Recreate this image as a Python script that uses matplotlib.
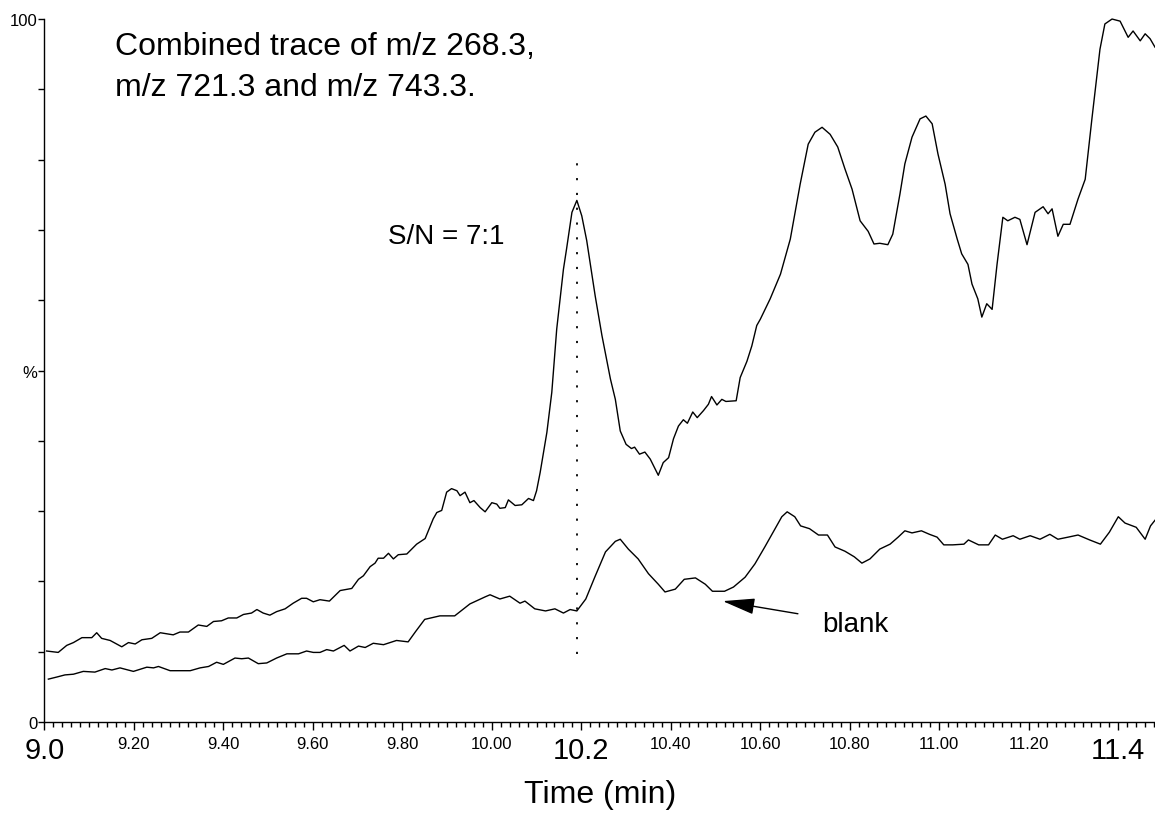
import matplotlib
matplotlib.use("Agg")
import matplotlib.pyplot as plt
from matplotlib.ticker import MultipleLocator, FixedLocator

plt.rcParams['font.family'] = ['Liberation Sans', 'DejaVu Sans']

# Combined ion trace (m/z 268.3 + 721.3 + 743.3): time in min, relative intensity in %
time_sample = [9.005, 9.031, 9.05, 9.065, 9.084, 9.106, 9.117, 9.128, 9.147, 9.173,
               9.188, 9.203, 9.218, 9.24, 9.259, 9.288, 9.303, 9.322, 9.344, 9.363,
               9.378, 9.396, 9.411, 9.43, 9.445, 9.463, 9.475, 9.489, 9.504, 9.519,
               9.538, 9.556, 9.575, 9.586, 9.601, 9.616, 9.637, 9.661, 9.687, 9.702,
               9.713, 9.728, 9.739, 9.746, 9.758, 9.769, 9.78, 9.791, 9.81, 9.832,
               9.851, 9.869, 9.877, 9.888, 9.899, 9.91, 9.922, 9.929, 9.94, 9.951,
               9.96, 9.974, 9.985, 10.0, 10.011, 10.018, 10.03, 10.037, 10.052, 10.067,
               10.082, 10.093, 10.10, 10.108, 10.123, 10.134, 10.145, 10.16, 10.167, 10.179,
               10.19, 10.201, 10.212, 10.231, 10.246, 10.265, 10.276, 10.287, 10.30, 10.312,
               10.319, 10.33, 10.342, 10.354, 10.372, 10.383, 10.395, 10.406, 10.417, 10.428,
               10.437, 10.449, 10.459, 10.473, 10.484, 10.491, 10.503, 10.514, 10.523, 10.546,
               10.555, 10.570, 10.581, 10.592, 10.6, 10.622, 10.645, 10.667, 10.689, 10.707,
               10.722, 10.738, 10.756, 10.773, 10.789, 10.805, 10.823, 10.841, 10.854, 10.867,
               10.885, 10.896, 10.912, 10.923, 10.939, 10.957, 10.97, 10.984, 10.997, 11.013,
               11.024, 11.04, 11.05, 11.064, 11.073, 11.086, 11.095, 11.106, 11.118, 11.129,
               11.142, 11.153, 11.169, 11.18, 11.196, 11.214, 11.232, 11.243, 11.252, 11.265,
               11.277, 11.292, 11.31, 11.326, 11.341, 11.359, 11.37, 11.386, 11.404, 11.422,
               11.433, 11.449, 11.46, 11.471, 11.482]
intensity_sample = [10.1, 9.9, 10.9, 11.3, 12.0, 12.0, 12.7, 11.9, 11.6, 10.7,
                    11.3, 11.1, 11.7, 11.9, 12.7, 12.4, 12.8, 12.8, 13.8, 13.6,
                    14.3, 14.4, 14.8, 14.8, 15.3, 15.5, 16.0, 15.5, 15.2, 15.7,
                    16.1, 16.9, 17.6, 17.6, 17.1, 17.4, 17.2, 18.7, 19.0, 20.3,
                    20.8, 22.1, 22.6, 23.3, 23.3, 24.0, 23.2, 23.8, 23.9, 25.3,
                    26.1, 28.9, 29.8, 30.1, 32.7, 33.2, 32.9, 32.2, 32.7, 31.2,
                    31.5, 30.5, 29.9, 31.2, 31.0, 30.4, 30.5, 31.6, 30.8, 30.9,
                    31.8, 31.5, 32.9, 35.5, 41.2, 46.9, 55.9, 64.4, 67.3, 72.5,
                    74.2, 72.0, 68.5, 60.6, 55.0, 48.8, 45.9, 41.4, 39.5, 38.9,
                    39.1, 38.1, 38.4, 37.4, 35.1, 36.9, 37.6, 40.3, 42.1, 43.0,
                    42.5, 44.1, 43.3, 44.3, 45.2, 46.3, 45.1, 45.9, 45.6, 45.7,
                    49.0, 51.3, 53.5, 56.4, 57.3, 60.2, 63.7, 68.7, 76.5, 82.2,
                    83.9, 84.6, 83.6, 81.8, 78.7, 75.8, 71.3, 69.8, 68.0, 68.1,
                    67.9, 69.4, 75.1, 79.4, 83.2, 85.8, 86.2, 85.1, 80.8, 76.5,
                    72.3, 68.7, 66.6, 65.1, 62.3, 60.2, 57.6, 59.5, 58.7, 65.1,
                    71.8, 71.3, 71.8, 71.5, 67.9, 72.5, 73.3, 72.3, 73.0, 69.1,
                    70.8, 70.8, 74.4, 77.2, 85.8, 95.7, 99.3, 100.0, 99.7, 97.4,
                    98.3, 96.9, 97.9, 97.2, 96.0]

# Blank injection, same ions
time_blank = [9.009, 9.028, 9.046, 9.065, 9.087, 9.113, 9.136, 9.151, 9.169, 9.199,
              9.229, 9.244, 9.255, 9.281, 9.326, 9.348, 9.367, 9.385, 9.4, 9.426,
              9.441, 9.456, 9.478, 9.497, 9.519, 9.542, 9.568, 9.586, 9.601, 9.616,
              9.631, 9.646, 9.67, 9.683, 9.702, 9.717, 9.735, 9.758, 9.787, 9.813,
              9.83, 9.85, 9.884, 9.917, 9.951, 9.985, 9.996, 10.018, 10.04, 10.063,
              10.074, 10.096, 10.12, 10.141, 10.16, 10.175, 10.19, 10.21, 10.23, 10.254,
              10.276, 10.287, 10.305, 10.327, 10.35, 10.372, 10.387, 10.41, 10.43, 10.455,
              10.477, 10.493, 10.52, 10.54, 10.566, 10.588, 10.61, 10.633, 10.648, 10.66,
              10.677, 10.69, 10.71, 10.73, 10.75, 10.767, 10.789, 10.81, 10.827, 10.845,
              10.867, 10.89, 10.908, 10.923, 10.939, 10.96, 10.978, 10.995, 11.01, 11.03,
              11.055, 11.065, 11.088, 11.11, 11.125, 11.141, 11.165, 11.18, 11.203, 11.225,
              11.247, 11.265, 11.288, 11.31, 11.336, 11.36, 11.38, 11.4, 11.415, 11.44,
              11.46, 11.472, 11.482]
intensity_blank = [6.1, 6.4, 6.7, 6.8, 7.2, 7.1, 7.6, 7.4, 7.7, 7.2,
                   7.8, 7.7, 7.9, 7.3, 7.3, 7.7, 7.9, 8.5, 8.2, 9.1,
                   9.0, 9.1, 8.3, 8.4, 9.1, 9.7, 9.7, 10.1, 9.9, 9.9,
                   10.3, 10.1, 10.9, 10.1, 10.8, 10.6, 11.2, 11.0, 11.6, 11.4,
                   12.9, 14.6, 15.1, 15.1, 16.8, 17.8, 18.1, 17.5, 17.9, 16.9,
                   17.2, 16.1, 15.8, 16.1, 15.5, 16.0, 15.8, 17.5, 20.6, 24.2,
                   25.7, 26.0, 24.6, 23.2, 21.1, 19.6, 18.5, 18.9, 20.3, 20.5,
                   19.6, 18.6, 18.6, 19.2, 20.6, 22.5, 24.9, 27.5, 29.2, 29.9,
                   29.2, 27.9, 27.5, 26.6, 26.6, 24.9, 24.3, 23.5, 22.6, 23.2,
                   24.6, 25.3, 26.3, 27.2, 26.9, 27.2, 26.7, 26.3, 25.2, 25.2,
                   25.3, 25.9, 25.2, 25.2, 26.6, 26.0, 26.5, 26.0, 26.5, 26.0,
                   26.7, 26.0, 26.3, 26.6, 25.9, 25.3, 27.0, 29.2, 28.3, 27.7,
                   26.0, 27.9, 28.7]

major_ticks = [9.0, 9.2, 9.4, 9.6, 9.8, 10.0, 10.2, 10.4, 10.6, 10.8, 11.0, 11.2, 11.4]
major_labels = ['9.0', '9.20', '9.40', '9.60', '9.80', '10.00', '10.2',
                '10.40', '10.60', '10.80', '11.00', '11.20', '11.4']
large_labels = ['9.0', '10.2', '11.4']

peak_time = 10.19
dotted_range = (9.7, 80.0)

fig = plt.figure(figsize=(11.55, 8.28), dpi=100)
ax = fig.add_axes([0.0384, 0.1268, 0.9616, 0.849])

ax.plot(time_sample, intensity_sample, color='black', lw=1.0, clip_on=False)
ax.plot(time_blank, intensity_blank, color='black', lw=1.0, clip_on=False)
ax.vlines(peak_time, *dotted_range, colors='black', lw=1.3, linestyles=(0, (1.2, 7.0)))

ax.set_xlim(9.0, 11.482)
ax.set_ylim(0, 100)

for side in ('top', 'right'):
    ax.spines[side].set_visible(False)
for side in ('left', 'bottom'):
    ax.spines[side].set_linewidth(1.0)

ax.xaxis.set_major_locator(FixedLocator(major_ticks))
ax.xaxis.set_minor_locator(MultipleLocator(0.02))
ax.set_xticklabels(major_labels)
ax.tick_params(axis='x', which='major', direction='out', length=6, width=1.0, pad=4, labelsize=12)
ax.tick_params(axis='x', which='minor', direction='out', length=3.5, width=1.0)
for lbl in ax.get_xticklabels():
    if lbl.get_text() in large_labels:
        lbl.set_fontsize(21)

ax.yaxis.set_major_locator(FixedLocator([0, 50, 100]))
ax.yaxis.set_minor_locator(MultipleLocator(10))
ax.set_yticklabels(['0', '%', '100'])
ax.tick_params(axis='y', which='both', direction='out', length=4, width=1.0, pad=1, labelsize=12)

ax.set_xlabel('Time (min)', fontsize=23, labelpad=11)

ax.text(9.158, 96.2, 'Combined trace of m/z 268.3,', fontsize=23, va='center', ha='left')
ax.text(9.158, 90.3, 'm/z 721.3 and m/z 743.3.', fontsize=23, va='center', ha='left')
ax.text(9.768, 69.1, 'S/N = 7:1', fontsize=20, va='center', ha='left')
ax.text(10.738, 13.9, 'blank', fontsize=20, va='center', ha='left')

ax.annotate('', xy=(10.516, 17.2), xytext=(10.684, 15.4),
            arrowprops=dict(arrowstyle='-|>,head_length=2.0,head_width=0.5',
                            color='black', lw=1.0, mutation_scale=10,
                            shrinkA=0, shrinkB=0))

fig.savefig('out.png', dpi=100)
